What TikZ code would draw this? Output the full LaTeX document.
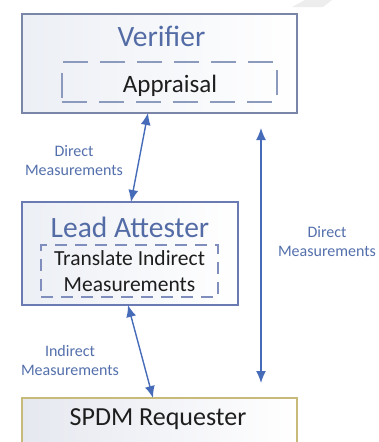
\documentclass[tikz,border=0pt]{standalone}
\usepackage{fontspec}
\setmainfont{Carlito}
\usetikzlibrary{arrows.meta,calc}
\definecolor{titleblue}{RGB}{84,108,166}
\definecolor{labelblue}{RGB}{84,112,172}
\definecolor{arrowblue}{RGB}{70,108,185}
\definecolor{boxedge}{RGB}{122,134,168}
\definecolor{leadedge}{RGB}{106,122,178}
\definecolor{dashedge}{RGB}{140,154,190}
\definecolor{goldedge}{RGB}{200,186,120}
\definecolor{fillleft}{RGB}{236,239,245}
\definecolor{fillleftsp}{RGB}{230,232,240}
\definecolor{txtdark}{RGB}{30,30,30}
\tikzset{
  outerbox/.style={draw=boxedge, line width=1.6pt, outer sep=0pt, inner sep=0pt,
    shading=axis, left color=fillleft, right color=white, shading angle=90},
  innerdash/.style={draw=dashedge, line width=1.8pt, dash pattern=on 25pt off 12pt,
    outer sep=0pt, inner sep=0pt},
  innerdashsmall/.style={draw=leadedge!85, line width=1.5pt, dash pattern=on 12pt off 8pt,
    outer sep=0pt, inner sep=0pt},
  titletext/.style={text=titleblue, font=\fontsize{29.5}{34}\selectfont, inner sep=0pt, anchor=base},
  bodytext/.style={text=txtdark, inner sep=0pt},
  labeltext/.style={text=labelblue, font=\fontsize{16}{19}\selectfont, align=center, inner sep=0pt},
  conn/.style={draw=arrowblue, line width=1.4pt},
  tip/.tip={Latex[length=12pt,width=10pt]}
}
\begin{document}
\begin{tikzpicture}[x=1pt,y=-1pt]
\clip (0,0) rectangle (379,442);
\fill[white] (0,0) rectangle (379,442);
% faint watermark piece
\fill[black!7] (292,7) -- (305,0) -- (332,0) -- (323,7) -- cycle;

% Verifier
\node[outerbox, minimum width=275, minimum height=99, anchor=north west] (ver) at (22,14) {};
\node[titletext] (vert) at (161.5,46) {Verifier};
\node[innerdash, minimum width=215, minimum height=40, anchor=north west] (appb) at (62,62) {};
\node[bodytext, font=\fontsize{25}{30}\selectfont, anchor=base] (appt) at (170,92) {Appraisal};

% Lead Attester
\node[outerbox, draw=leadedge, minimum width=216, minimum height=103, anchor=north west] (lead) at (22,202) {};
\node[titletext] (leadt) at (130,237) {Lead Attester};
\node[innerdashsmall, minimum width=177, minimum height=52, anchor=north west] (trb) at (41,245) {};
\node[bodytext, font=\fontsize{21.5}{26}\selectfont, align=center] (trt) at (trb.center) {Translate Indirect\\Measurements};

% SPDM Requester
\node[outerbox, draw=goldedge, left color=fillleftsp, minimum width=275, minimum height=60, anchor=north west] (spdm) at (22,398) {};
\node[bodytext, font=\fontsize{26}{30}\selectfont, anchor=base] (spdmt) at (158,425) {SPDM Requester};

% connectors
\draw[conn, tip-tip] ([xshift=-11.5pt]ver.south) -- ([xshift=1pt]lead.north);
\draw[conn, tip-tip] ([xshift=-2pt]lead.south) -- ([xshift=-6.5pt]spdm.north);
\coordinate (lt) at (261,128);
\coordinate (lb) at (261,383);
\draw[conn, tip-tip] (lt) -- (lb);

% labels
\node[labeltext] (l1) at (74,161) {Direct\\Measurements};
\node[labeltext] (l2) at (327,242) {Direct\\Measurements};
\node[labeltext] (l3) at (70,360) {Indirect\\Measurements};
\end{tikzpicture}
\end{document}
